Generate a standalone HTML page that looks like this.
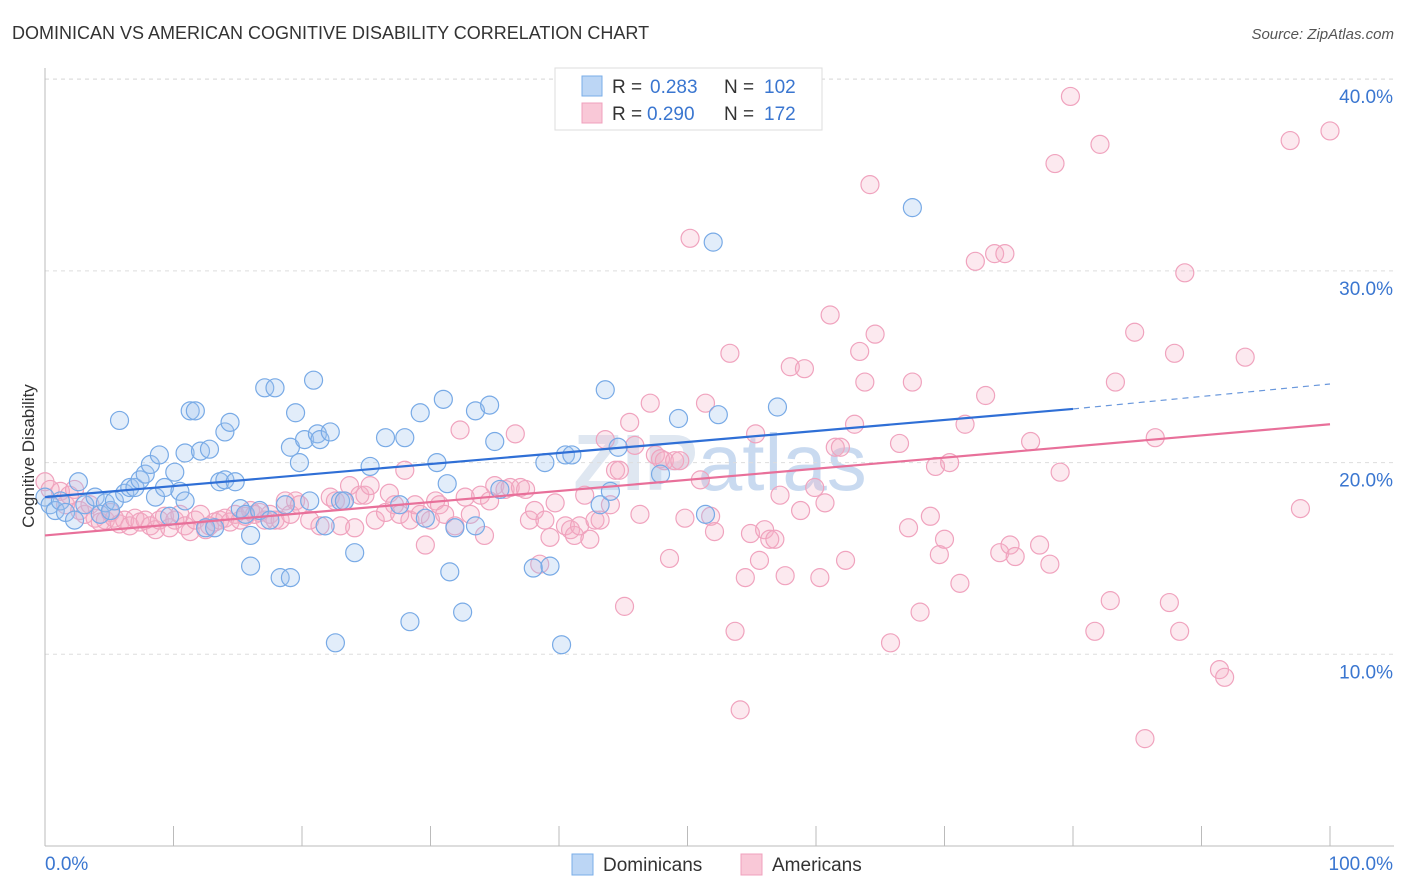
<!DOCTYPE html>
<html><head><meta charset="utf-8">
<style>
body{margin:0;background:#fff;font-family:"Liberation Sans",sans-serif;}
svg{display:block}
</style></head>
<body>
<svg id="chart" width="1406" height="892" xmlns="http://www.w3.org/2000/svg">
<text x="12" y="39" font-size="18" fill="#333">DOMINICAN VS AMERICAN COGNITIVE DISABILITY CORRELATION CHART</text>
<text x="1394" y="39" font-size="15" fill="#555" text-anchor="end" font-style="italic">Source: ZipAtlas.com</text>
<text x="720" y="490" font-size="80" fill="#dfe7f1" text-anchor="middle" font-weight="bold">ZIP<tspan fill="#c9daf0" font-weight="normal">atlas</tspan></text>
<g id="grid"></g>
<g id="axes"></g>
<g id="pts"></g>
<g id="trends"></g>
<text transform="translate(34,456) rotate(-90)" font-size="17" fill="#333" text-anchor="middle">Cognitive Disability</text>
<g>
<rect x="555" y="68" width="267" height="62" fill="#fff" stroke="#ddd"/>
<rect x="582" y="76" width="20" height="20" fill="#bcd6f5" stroke="#7aaee8"/>
<text x="612" y="93" font-size="19" fill="#333">R =</text>
<text x="650" y="93" font-size="19" fill="#3a76d0">0.283</text>
<text x="724" y="93" font-size="19" fill="#333">N =</text>
<text x="764" y="93" font-size="19" fill="#3a76d0">102</text>
<rect x="582" y="103" width="20" height="20" fill="#f9c8d7" stroke="#f0a0bc"/>
<text x="612" y="120" font-size="19" fill="#333">R =</text>
<text x="647" y="120" font-size="19" fill="#3a76d0">0.290</text>
<text x="724" y="120" font-size="19" fill="#333">N =</text>
<text x="764" y="120" font-size="19" fill="#3a76d0">172</text>
</g>
<g>
<rect x="572" y="854" width="21" height="21" fill="#bcd6f5" stroke="#7aaee8"/>
<text x="603" y="871" font-size="19" fill="#333">Dominicans</text>
<rect x="741" y="854" width="21" height="21" fill="#f9c8d7" stroke="#f0a0bc"/>
<text x="772" y="871" font-size="19" fill="#333">Americans</text>
</g>
</svg>
<script>
const yTicks=[10,20,30,40];
const yTickLabels=["10.0%","20.0%","30.0%","40.0%"];
const xTicks=[0,10,20,30,40,50,60,70,80,90,100];
const dominicanPoints=[[0,18.2],[0.4,17.8],[0.8,17.5],[1.2,18.0],[1.6,17.4],[2.3,17.0],[2.6,19.0],[3.1,17.8],[3.9,18.2],[4.3,17.3],[4.7,17.9],[5.1,17.5],[5.4,18.0],[5.8,22.2],[6.2,18.4],[6.6,18.7],[7.0,18.7],[7.4,19.1],[7.8,19.4],[8.2,19.9],[8.6,18.2],[8.9,20.4],[9.3,18.7],[9.7,17.2],[10.1,19.5],[10.5,18.5],[10.9,20.5],[10.9,18.0],[11.3,22.7],[11.7,22.7],[12.1,20.6],[12.5,16.6],[12.8,20.7],[13.2,16.6],[13.6,19.0],[14.0,19.1],[14.0,21.6],[14.4,22.1],[14.8,19.0],[15.2,17.6],[15.6,17.3],[16.0,16.2],[16.0,14.6],[16.7,17.5],[17.1,23.9],[17.5,17.0],[17.9,23.9],[18.3,14.0],[18.7,17.8],[19.1,14.0],[19.1,20.8],[19.5,22.6],[19.8,20.0],[20.2,21.2],[20.6,18.0],[20.9,24.3],[21.2,21.5],[21.4,21.2],[21.8,16.7],[22.2,21.6],[22.6,10.6],[23.0,18.0],[23.3,18.0],[24.1,15.3],[25.3,19.8],[26.5,21.3],[27.6,17.8],[28.0,21.3],[28.4,11.7],[29.2,22.6],[29.6,17.1],[30.5,20.0],[31.0,23.3],[31.3,18.9],[31.5,14.3],[31.9,16.6],[32.5,12.2],[33.5,22.7],[33.5,16.7],[34.6,23.0],[35.0,21.1],[35.4,18.6],[38.0,14.5],[38.9,20.0],[39.3,14.6],[40.2,10.5],[40.5,20.4],[41.0,20.4],[43.2,17.8],[43.6,23.8],[44.0,18.5],[44.6,20.8],[47.9,19.4],[49.3,22.3],[51.4,17.3],[52.0,31.5],[52.4,22.5],[57.0,22.9],[67.5,33.3]];
const americanPoints=[[0,19.0],[0.4,18.6],[1.2,18.5],[1.6,17.8],[1.9,18.3],[2.3,18.6],[2.7,17.5],[3.1,17.3],[3.5,17.8],[3.9,17.1],[4.3,16.9],[4.7,17.0],[5.1,17.4],[5.4,17.1],[5.8,16.8],[6.2,17.0],[6.6,16.7],[7.0,17.1],[7.4,16.9],[7.8,17.0],[8.2,16.7],[8.6,16.5],[8.9,17.0],[9.3,17.2],[9.7,16.6],[10.1,17.0],[10.5,17.3],[10.9,16.7],[11.3,16.4],[11.7,17.0],[12.1,17.3],[12.5,16.5],[12.8,16.7],[13.2,16.9],[13.6,17.0],[14.0,17.1],[14.4,16.9],[14.8,17.3],[15.2,17.0],[15.6,17.2],[16.0,17.5],[16.3,17.3],[16.7,17.4],[17.1,17.0],[17.5,17.3],[17.9,17.0],[18.3,17.0],[18.7,18.0],[19.1,17.3],[19.5,18.0],[19.8,17.8],[20.6,17.0],[21.4,16.7],[22.2,18.2],[22.6,18.0],[23.0,16.7],[23.3,18.0],[23.7,18.8],[24.1,16.6],[24.5,18.3],[24.9,18.3],[25.3,18.8],[25.7,17.0],[26.5,17.4],[26.8,18.4],[27.2,17.8],[27.6,17.3],[28.0,19.6],[28.4,17.0],[28.8,17.8],[29.2,17.3],[29.6,15.7],[30.0,17.0],[30.4,18.0],[30.7,17.8],[31.1,17.3],[31.9,16.7],[32.3,21.7],[32.7,18.2],[33.1,17.3],[33.9,18.3],[34.2,16.2],[34.6,18.0],[35.0,18.8],[35.8,18.6],[36.2,18.7],[36.6,21.5],[37.0,18.7],[37.4,18.6],[37.7,17.0],[38.1,17.5],[38.5,14.7],[38.9,17.0],[39.3,16.1],[39.7,17.9],[40.5,16.7],[40.9,16.5],[41.2,16.2],[41.6,16.7],[42.0,18.3],[42.4,16.0],[42.8,17.0],[43.2,17.0],[43.6,21.2],[44.0,17.8],[44.4,19.6],[44.7,19.6],[45.1,12.5],[45.5,22.1],[45.9,20.9],[46.3,17.3],[47.1,23.1],[47.5,20.4],[47.9,20.2],[48.2,20.1],[48.6,15.0],[49.0,20.1],[49.4,20.1],[49.8,17.1],[50.2,31.7],[51.0,19.1],[51.4,23.1],[51.8,17.2],[52.1,16.4],[53.3,25.7],[53.7,11.2],[54.1,7.1],[54.5,14.0],[54.9,16.3],[55.3,21.5],[55.6,14.9],[56.0,16.5],[56.4,16.0],[56.8,16.0],[57.2,18.3],[57.6,14.1],[58.0,25.0],[58.8,17.5],[59.1,24.9],[59.9,18.7],[60.3,14.0],[60.7,17.9],[61.1,27.7],[61.5,20.8],[61.9,20.8],[62.3,14.9],[63.0,22.0],[63.4,25.8],[63.8,24.2],[64.2,34.5],[64.6,26.7],[65.8,10.6],[66.5,21.0],[67.2,16.6],[67.5,24.2],[68.1,12.2],[68.9,17.2],[69.3,19.8],[69.6,15.2],[70.0,16.0],[70.4,20.0],[71.2,13.7],[71.6,22.0],[72.4,30.5],[73.2,23.5],[73.9,30.9],[74.3,15.3],[74.7,30.9],[75.1,15.7],[75.5,15.1],[76.7,21.1],[77.4,15.7],[78.2,14.7],[78.6,35.6],[79.0,19.5],[79.8,39.1],[81.7,11.2],[82.1,36.6],[82.9,12.8],[83.3,24.2],[84.8,26.8],[85.6,5.6],[86.4,21.3],[87.5,12.7],[87.9,25.7],[88.3,11.2],[88.7,29.9],[91.4,9.2],[91.8,8.8],[93.4,25.5],[96.9,36.8],[97.7,17.6],[100,37.3]];
const trendBlue=[18.2,22.8,24.1];
const trendPink=[16.2,22.0];

const NS="http://www.w3.org/2000/svg";
const X=v=>45+v*12.85, Y=v=>846-v*19.17;
function mk(tag,at,parent){const e=document.createElementNS(NS,tag);for(const k in at)e.setAttribute(k,at[k]);document.getElementById(parent).appendChild(e);return e;}
yTicks.forEach((t,i)=>{
 const l=mk('line',{x1:45,x2:1394,y1:Y(t),y2:Y(t),stroke:'#ddd','stroke-dasharray':'4,4'},'grid');
 
 
 const tx=mk('text',{x:1393,y:Y(t)+24,'font-size':19,fill:'#3a76d0','text-anchor':'end'},'grid');
 
 
 tx.textContent=yTickLabels[i];
});
const topLine=mk('line',{x1:45,x2:1394,y1:79,y2:79,stroke:'#ddd','stroke-dasharray':'4,4'},'grid');


const ax=mk('line',{x1:45,x2:1394,y1:846,y2:846,stroke:'#bbb'},'axes');


const ay=mk('line',{x1:45,x2:45,y1:68,y2:846,stroke:'#bbb'},'axes');


xTicks.forEach(t=>{
 const l=mk('line',{x1:X(t),x2:X(t),y1:826,y2:846,stroke:'#bbb'},'axes');
 
 
});
const xl0=mk('text',{x:45,y:870,'font-size':19,fill:'#3a76d0'},'axes');


xl0.textContent='0.0%';
const xl1=mk('text',{x:1393,y:870,'font-size':19,fill:'#3a76d0','text-anchor':'end'},'axes');


xl1.textContent='100.0%';
americanPoints.forEach(p=>{
 const c=mk('circle',{cx:X(p[0]),cy:Y(p[1]),r:9,fill:'rgba(245,175,198,0.28)',stroke:'#f0a3be','stroke-width':1.2},'pts');
 
 
});
dominicanPoints.forEach(p=>{
 const c=mk('circle',{cx:X(p[0]),cy:Y(p[1]),r:9,fill:'rgba(160,196,240,0.3)',stroke:'#78aae6','stroke-width':1.2},'pts');
 
 
});
const b1=mk('line',{x1:X(0),y1:Y(trendBlue[0]),x2:X(80),y2:Y(trendBlue[1]),stroke:'#2f6fd6','stroke-width':2.2},'trends');


const b2=mk('line',{x1:X(80),y1:Y(trendBlue[1]),x2:X(100),y2:Y(trendBlue[2]),stroke:'#6a98dc','stroke-width':1.2,'stroke-dasharray':'6,5'},'trends');


const p1=mk('line',{x1:X(0),y1:Y(trendPink[0]),x2:X(100),y2:Y(trendPink[1]),stroke:'#e8709a','stroke-width':2.2},'trends');


</script>
</body></html>
